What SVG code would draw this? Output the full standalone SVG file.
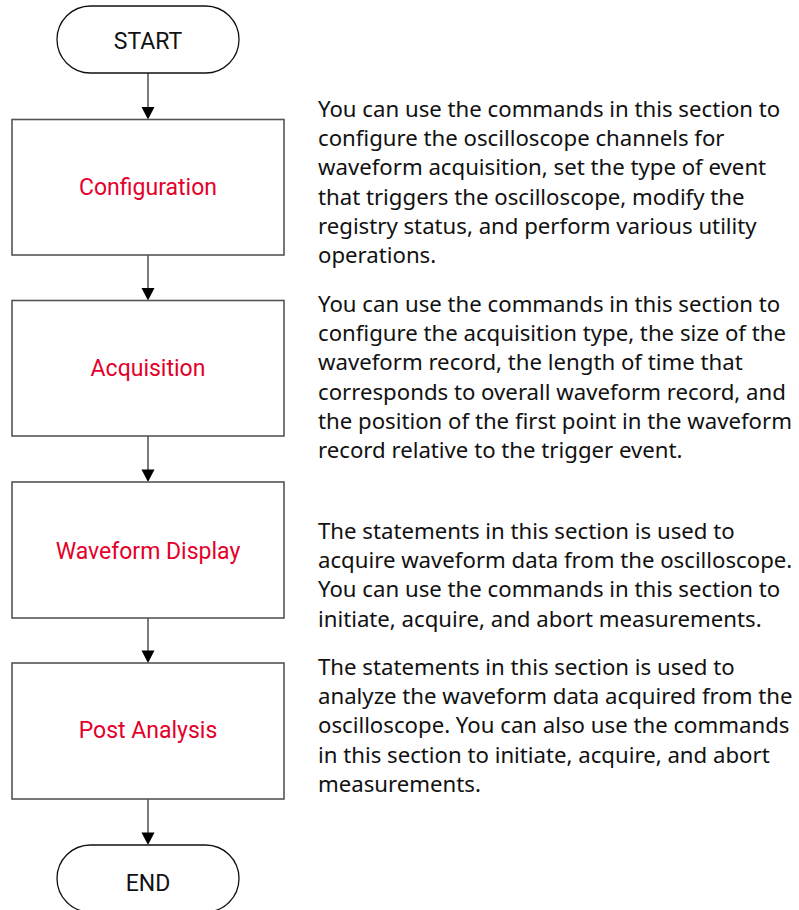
<svg xmlns="http://www.w3.org/2000/svg" width="799" height="910" viewBox="0 0 799 910">
  <style>
    .term { fill: #fff; stroke: #111; stroke-width: 1.3; }
    .box { fill: #fff; stroke: #555; stroke-width: 1.6; }
    .lbl { font-family: Roboto, "Liberation Sans", sans-serif; font-size: 23px; text-anchor: middle; dominant-baseline: central; }
    .red { fill: #e4002b; }
    .blk { fill: #111; }
    .desc { font-family: "Noto Sans", "Liberation Sans", sans-serif; font-size: 22.2px; fill: #111; }
    .line { stroke: #444; stroke-width: 1.4; fill: none; }
    .head { fill: #000; }
  </style>

  <rect width="799" height="910" fill="#fff"/>

  <g id="connectors">
    <path class="line" d="M148,73 L148,107"/>
    <path class="head" d="M141.5,107 L154.5,107 L148,119.5 Z"/>
    <path class="line" d="M148,255 L148,288"/>
    <path class="head" d="M141.5,288 L154.5,288 L148,300.5 Z"/>
    <path class="line" d="M148,436 L148,470"/>
    <path class="head" d="M141.5,469.5 L154.5,469.5 L148,482 Z"/>
    <path class="line" d="M148,618 L148,651"/>
    <path class="head" d="M141.5,650.5 L154.5,650.5 L148,663 Z"/>
    <path class="line" d="M148,799 L148,833"/>
    <path class="head" d="M141.5,832.5 L154.5,832.5 L148,845 Z"/>
  </g>

  <g id="start">
    <rect class="term" x="57" y="6" width="182" height="67" rx="33.5" ry="33.5"/>
    <text class="lbl blk" x="148" y="41">START</text>
  </g>

  <g id="configuration">
    <rect class="box" x="12" y="119.5" width="272" height="135.5"/>
    <text class="lbl red" x="148" y="187">Configuration</text>
  </g>

  <g id="acquisition">
    <rect class="box" x="12" y="300.5" width="272" height="135.5"/>
    <text class="lbl red" x="148" y="368">Acquisition</text>
  </g>

  <g id="waveform-display">
    <rect class="box" x="12" y="482" width="272" height="136"/>
    <text class="lbl red" x="148" y="551">Waveform Display</text>
  </g>

  <g id="post-analysis">
    <rect class="box" x="12" y="663" width="272" height="136"/>
    <text class="lbl red" x="148" y="730">Post Analysis</text>
  </g>

  <g id="end">
    <rect class="term" x="57" y="845" width="182" height="67" rx="33.5" ry="33.5"/>
    <text class="lbl blk" x="148" y="883">END</text>
  </g>

  <g id="notes">
    <text class="desc">
      <tspan x="318" y="117">You can use the commands in this section to</tspan>
      <tspan x="318" y="146.2">configure the oscilloscope channels for</tspan>
      <tspan x="318" y="175.4">waveform acquisition, set the type of event</tspan>
      <tspan x="318" y="204.6">that triggers the oscilloscope, modify the</tspan>
      <tspan x="318" y="233.8">registry status, and perform various utility</tspan>
      <tspan x="318" y="263">operations.</tspan>
    </text>
    <text class="desc">
      <tspan x="318" y="312">You can use the commands in this section to</tspan>
      <tspan x="318" y="341.2">configure the acquisition type, the size of the</tspan>
      <tspan x="318" y="370.4">waveform record, the length of time that</tspan>
      <tspan x="318" y="399.6">corresponds to overall waveform record, and</tspan>
      <tspan x="318" y="428.8">the position of the first point in the waveform</tspan>
      <tspan x="318" y="458">record relative to the trigger event.</tspan>
    </text>
    <text class="desc">
      <tspan x="318" y="539">The statements in this section is used to</tspan>
      <tspan x="318" y="568.2">acquire waveform data from the oscilloscope.</tspan>
      <tspan x="318" y="597.4">You can use the commands in this section to</tspan>
      <tspan x="318" y="626.6">initiate, acquire, and abort measurements.</tspan>
    </text>
    <text class="desc">
      <tspan x="318" y="675">The statements in this section is used to</tspan>
      <tspan x="318" y="704.2">analyze the waveform data acquired from the</tspan>
      <tspan x="318" y="733.4">oscilloscope. You can also use the commands</tspan>
      <tspan x="318" y="762.6">in this section to initiate, acquire, and abort</tspan>
      <tspan x="318" y="791.8">measurements.</tspan>
    </text>
  </g>
</svg>
